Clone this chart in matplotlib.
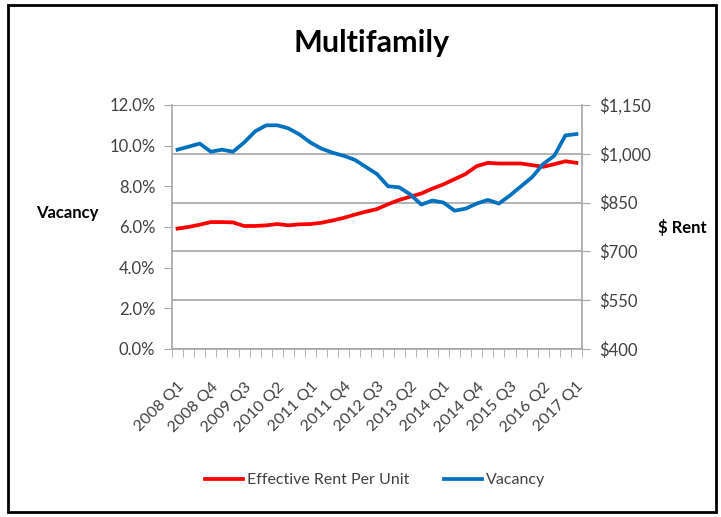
import matplotlib.pyplot as plt
from matplotlib.ticker import FuncFormatter, MultipleLocator, FixedLocator
from matplotlib.patches import Rectangle
from matplotlib.transforms import ScaledTranslation

plt.rcParams['font.family'] = ['Lato', 'DejaVu Sans']

years = list(range(2008, 2018))
quarters = [f"{y} Q{q}" for y in years for q in range(1, 5)][:37]

rent = [770, 775, 782, 790, 790, 789, 778, 778, 780, 784,
        780, 783, 784, 788, 795, 803, 813, 822, 830, 845,
        858, 868, 878, 893, 906, 922, 938, 962, 972, 970,
        970, 970, 965, 960, 968, 977, 972]

vacancy = [9.8, 9.95, 10.1, 9.7, 9.8, 9.7, 10.15, 10.7, 11.0, 11.0,
           10.85, 10.55, 10.15, 9.85, 9.65, 9.5, 9.3, 8.95, 8.6, 8.0,
           7.95, 7.6, 7.1, 7.3, 7.2, 6.8, 6.9, 7.15, 7.33, 7.15,
           7.55, 8.0, 8.45, 9.1, 9.5, 10.5, 10.57]

rent_ticks = [400, 550, 700, 850, 1000, 1150]

RED = '#FF0000'
BLUE = '#0070C0'
GRID = '#A6A6A6'
TXT = '#404040'

fig = plt.figure(figsize=(7.21, 5.17), dpi=100)
fig.patches.append(Rectangle((0.011, 0.01), 0.982, 0.98, transform=fig.transFigure,
                             fill=False, edgecolor='black', linewidth=2))

ax = fig.add_axes([0.2386, 0.325, 0.5686, 0.472])
x = list(range(len(quarters)))

# rent axis (drawn first, carries the gridlines)
ax.plot(x, rent, color=RED, linewidth=2.7, label='Effective Rent Per Unit', zorder=3)
ax.set_ylim(400, 1150)
ax.set_yticks(rent_ticks)
ax.yaxis.set_major_formatter(FuncFormatter(lambda v, p: f"${v:,.0f}"))
ax.grid(axis='y', color=GRID, linewidth=1.2)
ax.set_axisbelow(True)

ax.set_xlim(-0.5, len(quarters) - 0.5)
ax.xaxis.set_major_locator(FixedLocator(x[::3]))
ax.set_xticklabels(quarters[::3], rotation=45, ha='right', va='top',
                   rotation_mode='anchor', fontsize=11.5, color=TXT)
shift = ScaledTranslation(6 / 100, 0, fig.dpi_scale_trans)
for lbl in ax.get_xticklabels():
    lbl.set_transform(lbl.get_transform() + shift)
ax.xaxis.set_minor_locator(FixedLocator([i - 0.5 for i in range(len(quarters) + 1)]))
ax.tick_params(axis='x', which='major', length=0, pad=22)
ax.tick_params(axis='x', which='minor', length=6, color=GRID, direction='out')

ax.spines['top'].set_visible(False)
for s in ['left', 'right', 'bottom']:
    ax.spines[s].set_color(GRID)
    ax.spines[s].set_linewidth(1.2)

# vacancy axis (left side)
ax2 = ax.twinx()
ax2.plot(x, vacancy, color=BLUE, linewidth=2.7, label='Vacancy', zorder=4)
ax2.set_ylim(0, 12)
ax2.yaxis.set_major_locator(MultipleLocator(2))
ax2.yaxis.set_major_formatter(FuncFormatter(lambda v, p: f"{v:.1f}%"))
ax2.yaxis.tick_left()
for s in ['top', 'right', 'bottom', 'left']:
    ax2.spines[s].set_visible(False)

ax.yaxis.tick_right()
ax.tick_params(axis='y', length=6, color=GRID, labelsize=12, labelcolor=TXT, pad=6)
ax2.tick_params(axis='y', length=6, color=GRID, labelsize=12, labelcolor=TXT, pad=6)

fig.text(0.516, 0.899, 'Multifamily', ha='center', va='baseline', fontsize=22, fontweight='bold')
fig.text(0.093, 0.588, 'Vacancy', ha='center', va='center', fontsize=12, fontweight='bold')
fig.text(0.947, 0.559, '$ Rent', ha='center', va='center', fontsize=12, fontweight='bold')

h1, l1 = ax.get_legend_handles_labels()
h2, l2 = ax2.get_legend_handles_labels()
fig.legend(h1 + h2, l1 + l2, loc='center', bbox_to_anchor=(0.52, 0.071), ncol=2,
           frameon=False, fontsize=11.5, handlelength=2.4, handletextpad=0.2,
           columnspacing=2.2, labelcolor=TXT)

fig.savefig('out.png', dpi=100)
